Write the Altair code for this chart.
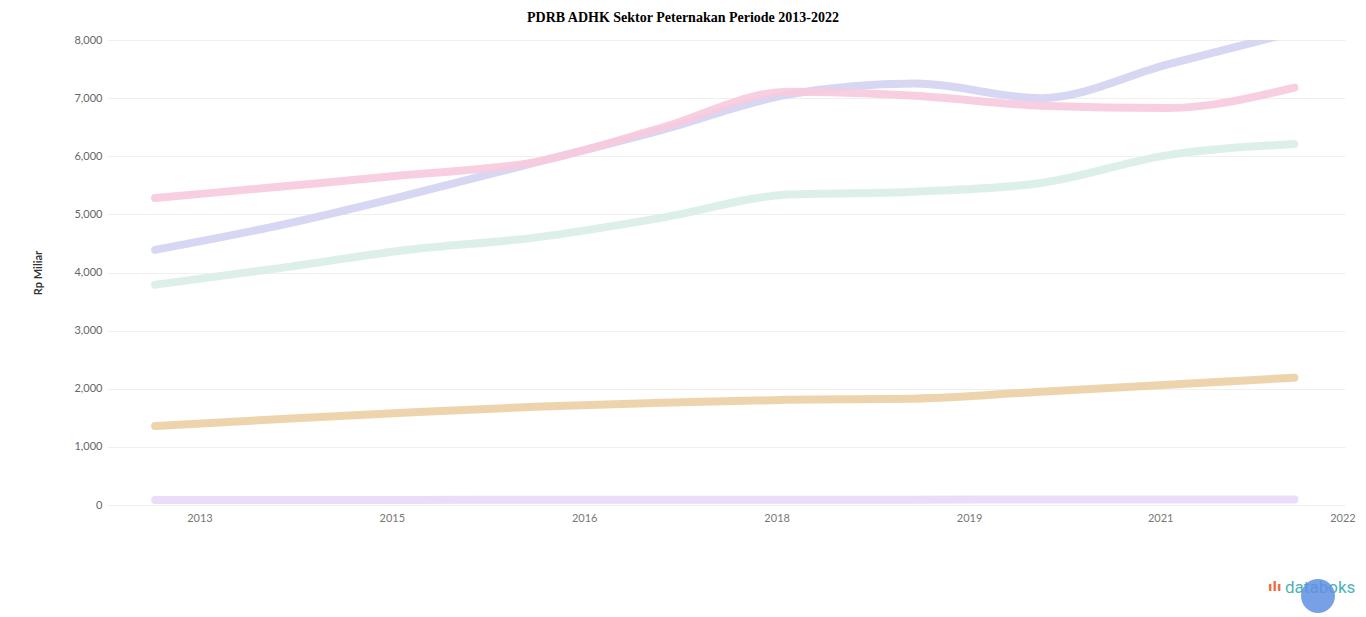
import altair as alt
import pandas as pd

# ---- data read from the (blurred) reference ----
years = [2013, 2014, 2015, 2016, 2017, 2018, 2019, 2020, 2021, 2022]
series_names = ["Seri 1", "Seri 2", "Seri 3", "Seri 4", "Seri 5"]
seri_1 = [4390, 4820, 5335, 5890, 6450, 7060, 7250, 7000, 7580, 8140]
seri_2 = [5280, 5480, 5680, 5900, 6490, 7110, 7040, 6870, 6830, 7180]
seri_3 = [3790, 4080, 4390, 4600, 4940, 5340, 5390, 5540, 6020, 6210]
seri_4 = [1360, 1480, 1590, 1690, 1760, 1810, 1830, 1950, 2070, 2190]
seri_5 = [85, 86, 88, 89, 90, 91, 92, 93, 94, 95]
series_colors = ["#d3d3f3", "#f7cadd", "#d8eee7", "#eccfa4", "#e8d9f8"]

y_ticks = [0, 1000, 2000, 3000, 4000, 5000, 6000, 7000, 8000]
x_tick_at = [2013.35, 2014.87, 2016.39, 2017.91, 2019.43, 2020.94, 2022.38]
x_tick_labels = ["2013", "2015", "2016", "2018", "2019", "2021", "2022"]

rows = []
for name, vals in zip(series_names, [seri_1, seri_2, seri_3, seri_4, seri_5]):
    for yr, v in zip(years, vals):
        rows.append({"Tahun": yr, "Seri": name, "Nilai": v})
df = pd.DataFrame(rows)

label_expr = "[" + ",".join("'%s'" % s for s in x_tick_labels) + "][indexof(" + \
    "[" + ",".join(str(v) for v in x_tick_at) + "], datum.value)]"

lines = alt.Chart(df).mark_line(
    strokeWidth=8, interpolate="monotone", clip=True, opacity=0.9, strokeCap="round"
).encode(
    x=alt.X("Tahun:Q",
            scale=alt.Scale(domain=[2012.62, 2022.40], nice=False, zero=False),
            axis=alt.Axis(values=x_tick_at, labelExpr=label_expr, title=None,
                          grid=False, domain=False, ticks=False, tickSize=0,
                          labelPadding=7, labelColor="#777", labelFontSize=11,
                          labelFont="Lato", labelFlush=False)),
    y=alt.Y("Nilai:Q",
            scale=alt.Scale(domain=[0, 8000], nice=False),
            axis=alt.Axis(values=y_ticks, format=",.0f", title="Rp Miliar",
                          titleFontSize=11, titleFontWeight="bold", titleColor="#333",
                          titleFont="Lato", titlePadding=30,
                          domain=False, ticks=False, tickSize=0, labelPadding=5,
                          labelColor="#666", labelFontSize=11, labelFont="Lato",
                          gridColor="#f0f0f0", gridWidth=1)),
    color=alt.Color("Seri:N", scale=alt.Scale(domain=series_names, range=series_colors),
                    legend=None),
    detail="Seri:N",
)

logo_df = pd.DataFrame({"t": ["databoks"], "i": ["\u0131l\u0131"]})
logo_text = alt.Chart(logo_df).mark_text(
    align="left", baseline="middle", fontSize=17, font="Roboto", color="#4db3b3"
).encode(x=alt.value(1178), y=alt.value(548), text="t:N")
logo_icon = alt.Chart(logo_df).mark_text(
    align="left", baseline="middle", fontSize=13, font="DejaVu Sans", fontWeight="bold",
    color="#ee6a3c"
).encode(x=alt.value(1161), y=alt.value(547), text="i:N")
bubble = alt.Chart(logo_df).mark_circle(
    size=1150, color="#5f8fe2", opacity=0.85
).encode(x=alt.value(1211), y=alt.value(556))

chart = alt.layer(lines, logo_text, logo_icon, bubble).properties(
    width=1238,
    height=465,
    padding={"left": 99, "top": 32, "right": 13, "bottom": 110},
    autosize=alt.AutoSizeParams(type="none"),
    title=alt.TitleParams(
        "PDRB ADHK Sektor Peternakan Periode 2013-2022",
        font="Liberation Serif", fontSize=14, fontWeight="bold", color="#000",
        anchor="middle", dx=-43, offset=9,
    ),
).configure(background="white").configure_view(stroke=None)

chart.save("out.html", embed_options={"renderer": "svg", "actions": False})
